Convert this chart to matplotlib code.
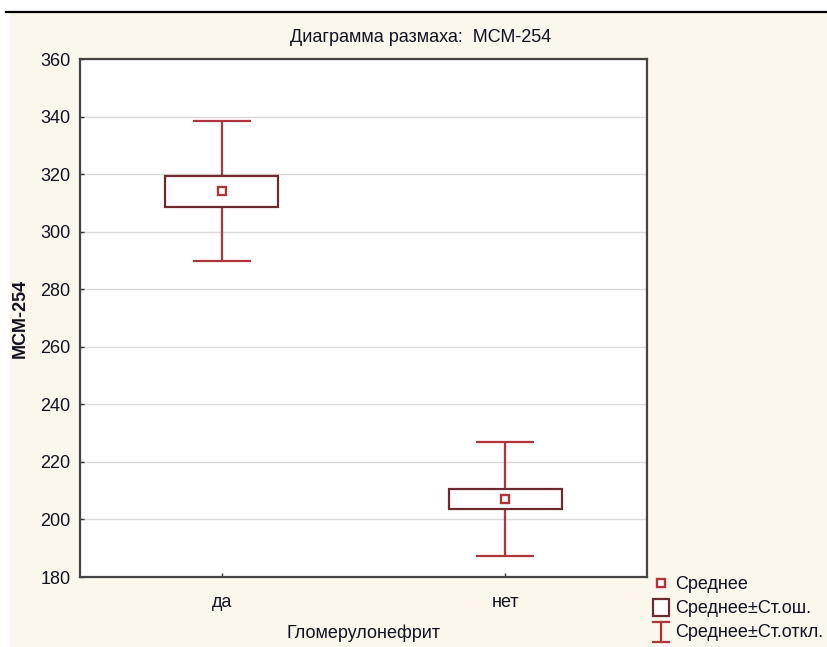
import matplotlib.pyplot as plt
from matplotlib.patches import Rectangle
from matplotlib.legend_handler import HandlerBase
import numpy as np

plt.rcParams['font.family'] = ['Liberation Sans', 'DejaVu Sans']

# group statistics for МСМ-254
groups = ['да', 'нет']
means = [314.1, 207.1]
std_err = [5.4, 3.5]
std_dev = [24.4, 19.8]

box_col = '#6e2a2e'
bar_col = '#b0343c'
bg = '#fcf7ec'
fs = 13


class IBarHandler(HandlerBase):
    # small I-shaped glyph for the whisker entry
    def create_artists(self, legend, orig_handle, xdescent, ydescent, width, height,
                       fontsize, trans):
        cx = width / 2 - xdescent
        y0, y1 = -ydescent - 3, height - ydescent + 2
        w = 6
        lines = [plt.Line2D([cx, cx], [y0, y1]),
                 plt.Line2D([cx - w, cx + w], [y0, y0]),
                 plt.Line2D([cx - w, cx + w], [y1, y1])]
        for ln in lines:
            ln.set_color(bar_col)
            ln.set_linewidth(1.6)
            ln.set_transform(trans)
        return lines


class SquareHandler(HandlerBase):
    # square outline for the standard error entry
    def create_artists(self, legend, orig_handle, xdescent, ydescent, width, height,
                       fontsize, trans):
        cx = width / 2 - xdescent
        s = height + 3
        r = Rectangle((cx - s / 2, -ydescent - 2), s, s, facecolor='white',
                      edgecolor=box_col, lw=1.6, transform=trans)
        return [r]


fig = plt.figure(figsize=(8.27, 6.47), dpi=100)
fig.patch.set_facecolor('white')
# cream panel with dark rule on top
fig.patches.append(Rectangle((10 / 827, 0), 1, 1 - 12 / 647, transform=fig.transFigure,
                             facecolor=bg, edgecolor='none', zorder=-5))
fig.lines.append(plt.Line2D([6 / 827, 1], [1 - 11.5 / 647] * 2, transform=fig.transFigure,
                            color='black', lw=1.6, zorder=-4))

ax = fig.add_axes([80 / 827, 1 - 577 / 647, 567 / 827, 518 / 647])
ax.set_facecolor('white')

x = np.arange(len(groups))
eb = ax.errorbar(x, means, yerr=std_dev, fmt='none', ecolor=bar_col, elinewidth=1.6,
                 capsize=21, capthick=1.6, zorder=2)
for xi, m, se in zip(x, means, std_err):
    ax.add_patch(Rectangle((xi - 0.2, m - se), 0.4, 2 * se, facecolor='white',
                           edgecolor=box_col, lw=1.6, zorder=3))
mk, = ax.plot(x, means, 's', ms=6, mfc='white', mec=bar_col, mew=1.7, zorder=4)

ax.set_xlim(-0.5, 1.5)
ax.set_ylim(180, 360)
ax.set_yticks(np.arange(180, 361, 20))
ax.set_xticks(x)
ax.set_xticklabels(groups)
ax.grid(axis='y', color='#d9d9d9', lw=1)
ax.set_axisbelow(True)
ax.tick_params(direction='in', length=3, width=1, labelsize=fs, colors='#333333',
               labelcolor='#111122')
ax.tick_params(axis='x', pad=12)
ax.tick_params(axis='y', pad=7)
for s in ax.spines.values():
    s.set_color('#444444')
    s.set_linewidth(1.6)

fig.text(421 / 827, 1 - 37 / 647, 'Диаграмма размаха:  МСМ-254', fontsize=fs,
         ha='center', va='center', color='#111122')
ax.set_xlabel('Гломерулонефрит', fontsize=fs, labelpad=10, color='#111122')
ax.set_ylabel('МСМ-254', fontsize=fs, fontweight='bold', labelpad=8, color='#111122')

se_patch = Rectangle((0, 0), 1, 1)
fig.legend([mk, se_patch, eb], ['Среднее', 'Среднее±Ст.ош.', 'Среднее±Ст.откл.'],
           handler_map={type(eb): IBarHandler(), Rectangle: SquareHandler()},
           loc='upper left', bbox_to_anchor=(652 / 827, 1 - 576 / 647), frameon=False,
           fontsize=fs, handlelength=1.0, handletextpad=0.3, labelspacing=0.4,
           borderaxespad=0, borderpad=0, labelcolor='#111122')

fig.savefig('out.png', dpi=100, facecolor=fig.get_facecolor())
